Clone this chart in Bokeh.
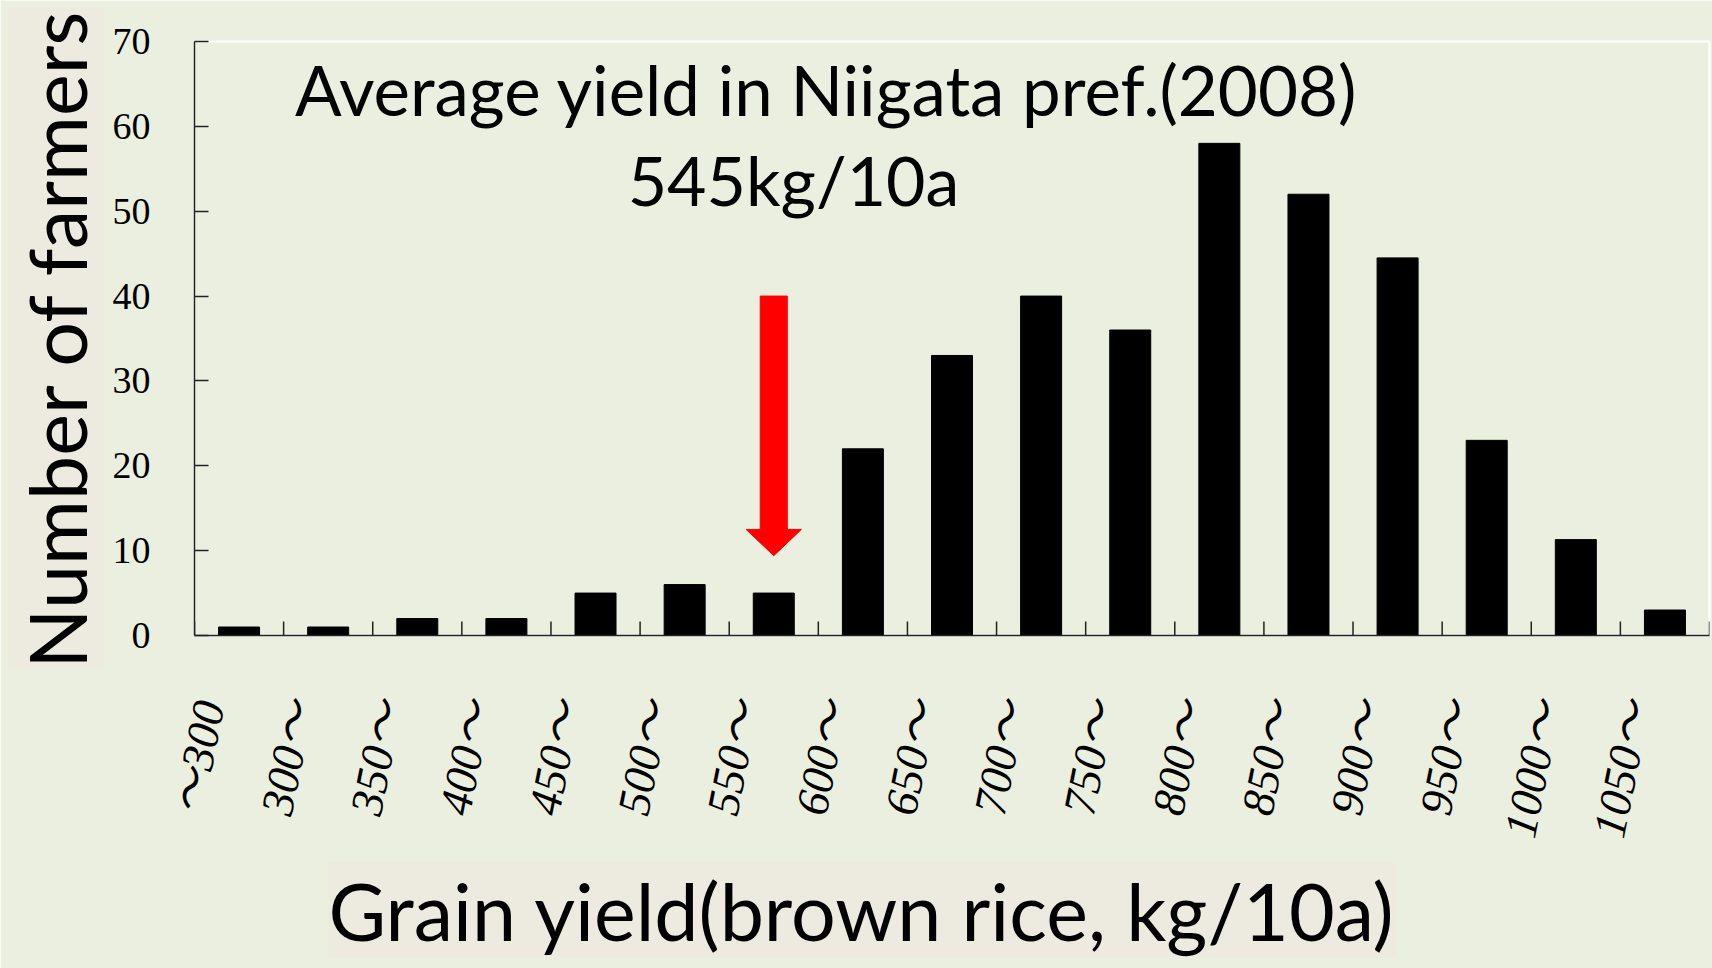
import numpy as np
from bokeh.plotting import figure
from bokeh.models import Range1d, FixedTicker, Label, Title, CustomJSTickFormatter
from bokeh.embed import file_html
from bokeh.resources import INLINE

# ---- data ----
categories = ["～300", "300～", "350～", "400～", "450～", "500～", "550～", "600～", "650～",
              "700～", "750～", "800～", "850～", "900～", "950～", "1000～", "1050～"]
farmers = [1, 1, 2, 2, 5, 6, 5, 22, 33, 40, 36, 58, 52, 44.5, 23, 11.3, 3]
y_ticks = [0, 10, 20, 30, 40, 50, 60, 70]

title_line1 = "Average yield in Niigata pref.(2008)"
title_line2 = "545kg/10a"
x_title = "Grain yield(brown rice, kg/10a)"
y_title = "Number of farmers"

# arrow marks the class of the prefecture average (545 -> drawn over "550～")
arrow_category = "550～"
arrow_top = 40.0
arrow_head_base = 12.5
arrow_tip = 9.4

BG = "#ebefdf"
BOX = "#edebe0"
AXIS = "#222222"

n = len(categories)
p = figure(width=1712, height=968, x_range=Range1d(0, n), y_range=Range1d(0, 70),
           output_backend="svg", toolbar_location=None,
           min_border_left=194, min_border_right=3, min_border_top=41, min_border_bottom=332,
           background_fill_color=BG, border_fill_color=BG,
           outline_line_color="white", outline_line_width=2)
p.xgrid.visible = False
p.ygrid.visible = False

centers = np.arange(n) + 0.5
p.vbar(x=centers, top=farmers, width=0.46, fill_color="black", line_color="black")

# class-boundary tick marks (pointing into the plot)
bounds = np.arange(n + 1)
tick_len = 14 * 70 / 595.0
p.segment(x0=bounds, y0=np.zeros(n + 1), x1=bounds, y1=np.full(n + 1, tick_len),
          line_color=AXIS, line_width=1.5)

# red arrow
ax = categories.index(arrow_category) + 0.5
sw = 0.152
hw = 0.31
p.patch(x=[ax - sw, ax + sw, ax + sw, ax + hw, ax, ax - hw, ax - sw],
        y=[arrow_top, arrow_top, arrow_head_base, arrow_head_base, arrow_tip, arrow_head_base, arrow_head_base],
        fill_color="#ff0000", line_color="#ff0000", line_width=1)

# y axis
p.yaxis.ticker = FixedTicker(ticks=y_ticks)
p.yaxis.minor_tick_line_color = None
p.yaxis.major_tick_in = 14
p.yaxis.major_tick_out = 0
p.yaxis.major_label_standoff = 44
p.yaxis.major_label_text_font = "Liberation Serif"
p.yaxis.major_label_text_font_size = "38px"
p.yaxis.major_label_text_color = "black"
p.yaxis.axis_line_color = AXIS
p.yaxis.axis_line_width = 1.5
p.yaxis.major_tick_line_color = AXIS
p.yaxis.major_tick_line_width = 1.5

# x axis: slanted labels at the lower bound of each class
LABEL_SHIFT = 0.17
p.xaxis.ticker = FixedTicker(ticks=[k + LABEL_SHIFT for k in range(n)])
p.xaxis.formatter = CustomJSTickFormatter(
    args=dict(labels=categories, shift=LABEL_SHIFT),
    code="const i = Math.round(tick - shift); return (i >= 0 && i < labels.length) ? labels[i] : '';")
p.xaxis.major_label_orientation = 1.373
p.xaxis.minor_tick_line_color = None
p.xaxis.major_tick_line_color = None
p.xaxis.major_tick_in = 0
p.xaxis.major_tick_out = 0
p.xaxis.major_label_standoff = 66
p.xaxis.major_label_text_font = "Liberation Serif, Noto Sans CJK JP"
p.xaxis.major_label_text_font_style = "italic"
p.xaxis.major_label_text_font_size = "46px"
p.xaxis.major_label_text_color = "black"
p.xaxis.axis_line_color = AXIS
p.xaxis.axis_line_width = 1.5

FONT = "Lato"
p.add_layout(Label(x=632, y=546, x_units="screen", y_units="screen", text=title_line1,
                   text_font=FONT, text_font_size="69px", text_color="black",
                   text_align="center", text_baseline="alphabetic"))
p.add_layout(Label(x=599, y=456, x_units="screen", y_units="screen", text=title_line2,
                   text_font=FONT, text_font_size="68px", text_color="black",
                   text_align="center", text_baseline="alphabetic"))

p.add_layout(Title(text=x_title, align="left", offset=134, standoff=22,
                   text_font=FONT, text_font_size="79px", text_font_style="normal",
                   text_color="black", background_fill_color=BOX), "below")
p.add_layout(Title(text=y_title, align="center", standoff=12,
                   text_font=FONT, text_font_size="79px", text_font_style="normal",
                   text_color="black", background_fill_color=BOX), "left")

open("out.html", "w").write(file_html(p, INLINE))
